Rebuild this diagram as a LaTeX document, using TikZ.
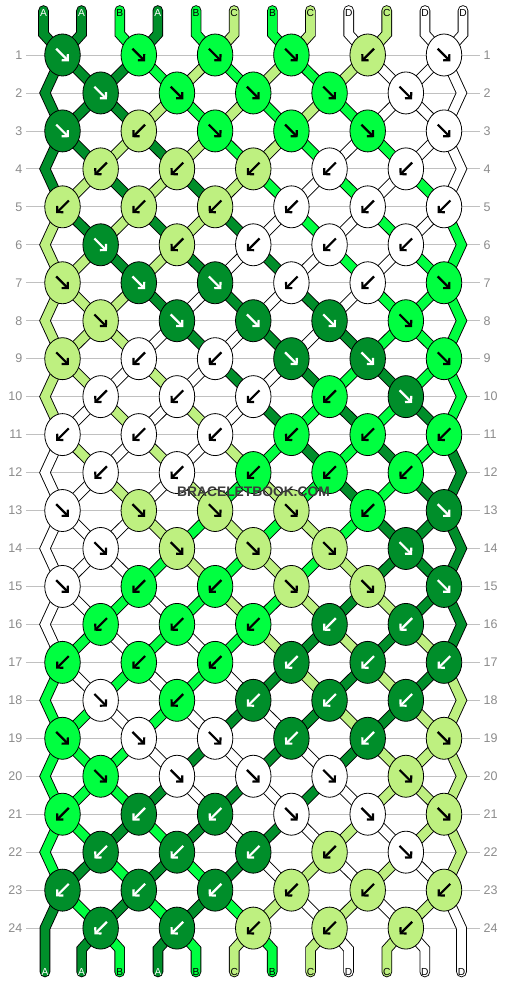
\documentclass[tikz,border=0pt]{standalone}
\usepackage{fontspec}
\setmainfont{Liberation Sans}
\usetikzlibrary{shapes.geometric,arrows.meta}
\definecolor{colA}{RGB}{0,142,42}
\definecolor{colB}{RGB}{0,255,64}
\definecolor{colC}{RGB}{190,240,128}
\definecolor{colD}{RGB}{255,255,255}
\colorlet{arrA}{white}\colorlet{arrB}{black}\colorlet{arrC}{black}\colorlet{arrD}{black}
\colorlet{txtA}{white}\colorlet{txtB}{black}\colorlet{txtC}{black}\colorlet{txtD}{black}
\definecolor{rowgray}{RGB}{140,140,140}
\definecolor{linegray}{RGB}{192,192,192}
\definecolor{wmgray}{RGB}{60,60,60}
\pgfdeclarelayer{gridlayer}
\pgfdeclarelayer{threadlayer}
\pgfsetlayers{gridlayer,threadlayer,main}
\begin{document}
\begin{tikzpicture}[x=1pt,y=-1pt,
  knot/.style={ellipse, draw=black, line width=0.8pt, minimum width=35.5pt, minimum height=42pt, inner sep=0pt, outer sep=0pt},
  thread/.style={draw=black, line width=0.9pt, double=#1, double distance=8.8pt, line cap=round, line join=miter},
  knotarrow/.style={line width=2.2pt, -{Straight Barb[length=4.2pt,width=8.8pt]}},
  rowlabel/.style={text=rowgray, font=\fontsize{12.5}{12.5}\selectfont, inner sep=0pt},
  endlabel/.style={font=\fontsize{10.2}{10.2}\selectfont, inner sep=0pt},
  gridline/.style={draw=linegray, line width=0.8pt}]
\useasboundingbox (0,0) rectangle (506,984);
\begin{pgfonlayer}{gridlayer}
\fill[white] (0,0) rectangle (506,984);
\foreach \rr in {1,...,24}{%
  \pgfmathsetmacro\yy{55+(\rr-1)*37.96}%
  \draw[gridline] (26,\yy) -- (480,\yy);
  \node[rowlabel,anchor=east] (ll\rr) at (22.5,\yy) {\rr};
  \node[rowlabel,anchor=west] (lr\rr) at (483.5,\yy) {\rr};
}
\end{pgfonlayer}
% edge zigzag points
\foreach \rr in {2,4,...,24}{%
  \pgfmathsetmacro\yy{55+(\rr-1)*37.96}%
  \coordinate (zl\rr) at (45,\yy);
  \coordinate (zr\rr) at (461.5,\yy);
}
% string ends and labels
\foreach \pp/\lt in {1/A,2/A,3/B,4/A,5/B,6/C,7/B,8/C,9/D,10/C,11/D,12/D}{%
  \pgfmathsetmacro\xt{62.5+(ceil(\pp/2)-1)*76.3+(mod(\pp,2)==1?-19:19)}%
  \pgfmathsetmacro\xb{\pp==1?45:(\pp==12?461.5:100.65+(floor(\pp/2)-1)*76.3+(mod(\pp,2)==0?-19:19))}%
  \coordinate (t\pp) at (\xt,10.5);
  \coordinate (b\pp) at (\xb,972);
  \node[endlabel,text=txt\lt] (lt\pp) at (\xt,13) {\lt};
  \node[endlabel,text=txt\lt] (lb\pp) at (\xb,972) {\lt};
}
% knots
\foreach \rr/\KL in {1/{A/1,B/1,B/1,B/1,C/-1,D/1},2/{A/1,B/1,B/1,B/1,D/1},3/{A/1,C/-1,B/1,B/1,B/1,D/1},4/{C/-1,C/-1,C/-1,D/-1,D/-1},5/{C/-1,C/-1,C/-1,D/-1,D/-1,D/-1},6/{A/1,C/-1,D/-1,D/-1,D/-1},7/{C/1,A/1,A/1,D/-1,D/-1,B/1},8/{C/1,A/1,A/1,A/1,B/1},9/{C/1,D/-1,D/-1,A/1,A/1,B/1},10/{D/-1,D/-1,D/-1,B/-1,A/1},11/{D/-1,D/-1,D/-1,B/-1,B/-1,B/-1},12/{D/-1,D/-1,B/-1,B/-1,B/-1},13/{D/1,C/1,C/1,C/1,B/-1,A/1},14/{D/1,C/1,C/1,C/1,A/1},15/{D/1,B/-1,B/-1,C/1,C/1,A/1},16/{B/-1,B/-1,B/-1,A/-1,A/-1},17/{B/-1,B/-1,B/-1,A/-1,A/-1,A/-1},18/{D/1,B/-1,A/-1,A/-1,A/-1},19/{B/1,D/1,D/1,A/-1,A/-1,C/1},20/{B/1,D/1,D/1,D/1,C/1},21/{B/-1,A/-1,A/-1,D/1,D/1,C/1},22/{A/-1,A/-1,A/-1,C/-1,D/1},23/{A/-1,A/-1,A/-1,C/-1,C/-1,C/-1},24/{A/-1,A/-1,C/-1,C/-1,C/-1}}{%
  \foreach \cc/\sg [count=\ii] in \KL {%
    \ifodd\rr
      \pgfmathsetmacro\xx{62.5+(\ii-1)*76.3}%
    \else
      \pgfmathsetmacro\xx{100.65+(\ii-1)*76.3}%
    \fi
    \pgfmathsetmacro\yy{55+(\rr-1)*37.96}%
    \node[knot, fill=col\cc] (k\rr-\ii) at (\xx,\yy) {};
    \draw[knotarrow, draw=arr\cc] ([shift={(-6.3*\sg,-6.3)}]k\rr-\ii.center) -- ([shift={(6.3*\sg,6.3)}]k\rr-\ii.center);
  }%
}
% threads
\begin{pgfonlayer}{threadlayer}
\foreach \rr/\SL in {0/{A,A,B,A,B,C,B,C,D,C,D,D},1/{A,A,A,B,C,B,C,B,C,D,D,D},2/{A,A,A,C,B,C,B,C,B,D,D,D},3/{A,A,C,A,C,B,C,B,D,B,D,D},4/{A,C,A,C,A,C,B,D,B,D,B,D},5/{C,A,C,A,C,A,D,B,D,B,D,B},6/{C,C,A,C,A,D,A,D,B,D,B,B},7/{C,C,C,A,D,A,D,A,D,B,B,B},8/{C,C,C,D,A,D,A,D,A,B,B,B},9/{C,C,D,C,D,A,D,A,B,A,B,B},10/{C,D,C,D,C,D,A,B,A,B,A,B},11/{D,C,D,C,D,C,B,A,B,A,B,A},12/{D,D,C,D,C,B,C,B,A,B,A,A},13/{D,D,D,C,B,C,B,C,B,A,A,A},14/{D,D,D,B,C,B,C,B,C,A,A,A},15/{D,D,B,D,B,C,B,C,A,C,A,A},16/{D,B,D,B,D,B,C,A,C,A,C,A},17/{B,D,B,D,B,D,A,C,A,C,A,C},18/{B,B,D,B,D,A,D,A,C,A,C,C},19/{B,B,B,D,A,D,A,D,A,C,C,C},20/{B,B,B,A,D,A,D,A,D,C,C,C},21/{B,B,A,B,A,D,A,D,C,D,C,C},22/{B,A,B,A,B,A,D,C,D,C,D,C},23/{A,B,A,B,A,B,C,D,C,D,C,D},24/{A,A,B,A,B,C,B,C,D,C,D,D}}{%
  \pgfmathtruncatemacro\rn{\rr+1}%
  \pgfmathtruncatemacro\rnn{\rr+2}%
  \foreach \cc [count=\pp] in \SL {%
    \ifnum\rr=0
      \pgfmathtruncatemacro\kk{(\pp+1)/2}%
      \draw[thread=col\cc] (t\pp) -- (t\pp |- k1-\kk.north) -- (k1-\kk.center);
    \else\ifnum\rr=24
      \ifnum\pp=1 \else\ifnum\pp=12 \else
        \pgfmathtruncatemacro\kk{\pp/2}%
        \draw[thread=col\cc] (k24-\kk.center) -- (b\pp |- k24-\kk.south) -- (b\pp);
      \fi\fi
    \else\ifodd\rr
      \pgfmathtruncatemacro\kk{(\pp+1)/2}%
      \ifodd\pp
        \ifnum\kk=1
          \ifnum\rr=23
            \draw[thread=col\cc] (k23-1.center) -- (zl24) -- (b1);
          \else
            \draw[thread=col\cc] (k\rr-1.center) -- (zl\rn) -- (k\rnn-1.center);
          \fi
        \else
          \pgfmathtruncatemacro\km{\kk-1}%
          \draw[thread=col\cc] (k\rr-\kk.center) -- (k\rn-\km.center);
        \fi
      \else
        \ifnum\kk=6
          \ifnum\rr=23
            \draw[thread=col\cc] (k23-6.center) -- (zr24) -- (b12);
          \else
            \draw[thread=col\cc] (k\rr-6.center) -- (zr\rn) -- (k\rnn-6.center);
          \fi
        \else
          \draw[thread=col\cc] (k\rr-\kk.center) -- (k\rn-\kk.center);
        \fi
      \fi
    \else
      \ifnum\pp=1 \else\ifnum\pp=12 \else
        \ifodd\pp
          \pgfmathtruncatemacro\kk{(\pp-1)/2}%
          \pgfmathtruncatemacro\kp{\kk+1}%
          \draw[thread=col\cc] (k\rr-\kk.center) -- (k\rn-\kp.center);
        \else
          \pgfmathtruncatemacro\kk{\pp/2}%
          \draw[thread=col\cc] (k\rr-\kk.center) -- (k\rn-\kk.center);
        \fi
      \fi\fi
    \fi\fi\fi
  }%
}
\end{pgfonlayer}
\node[font=\bfseries\fontsize{13.8}{14}\selectfont, text=wmgray, inner sep=0pt] (wm) at (253.5,491.5) {BRACELETBOOK.COM};
\end{tikzpicture}
\end{document}
